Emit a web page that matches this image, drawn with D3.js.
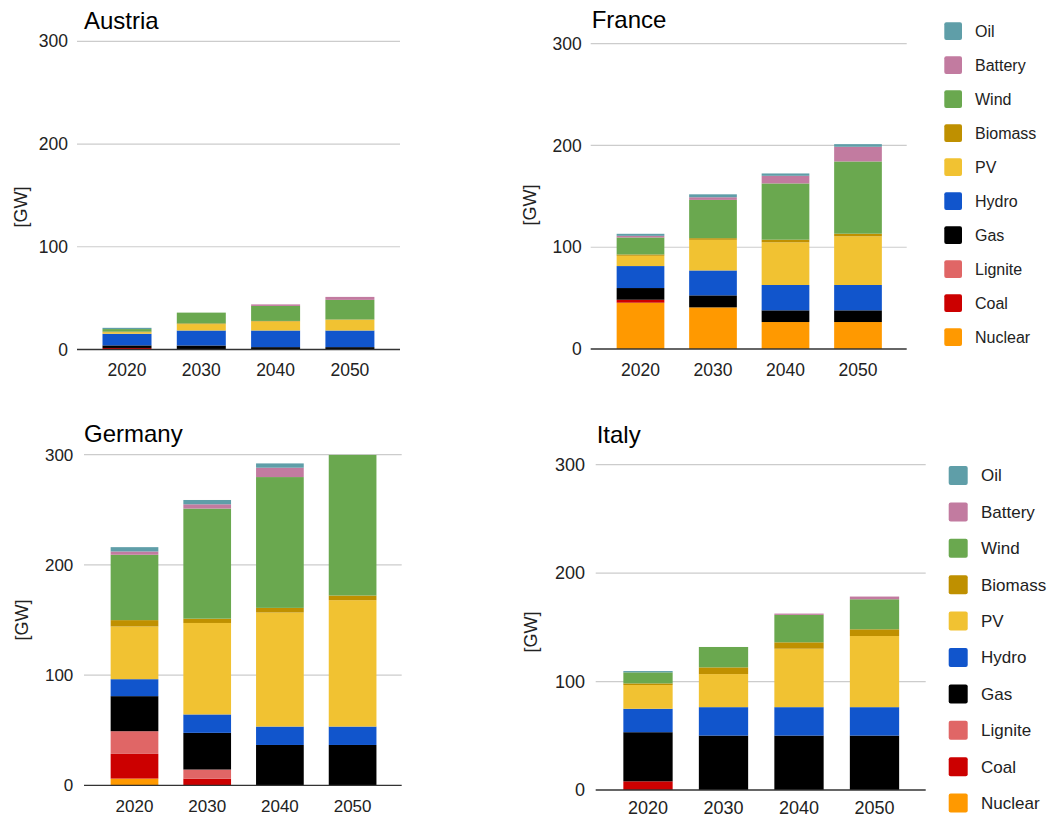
<!DOCTYPE html>
<html>
<head>
<meta charset="utf-8">
<script src="https://cdn.jsdelivr.net/npm/d3@7"></script>
<style>
  html, body { margin: 0; padding: 0; background: #fff; }
  svg { display: block; font-family: "Liberation Sans", Arial, sans-serif; }
</style>
</head>
<body>
<svg id="chart" width="1048" height="818"></svg>
<script>
// ---- data ----
const years = ["2020", "2030", "2040", "2050"];
const sources = ["Nuclear", "Coal", "Lignite", "Gas", "Hydro", "PV", "Biomass", "Wind", "Battery", "Oil"];
const sourceColors = ["#ff9900", "#cc0000", "#e06666", "#000000", "#1155cc", "#f1c232", "#bf9000", "#6aa84f", "#c27ba0", "#5f9ea8"];
const yTicks = [0, 100, 200, 300];

// values per source (order as in `sources`), one value per year [GW]
const austria = [
  [0, 0, 0, 0],          // Nuclear
  [1.5, 0, 0, 0],        // Coal
  [0, 0, 0, 0],          // Lignite
  [2.5, 3.9, 2.3, 2.3],  // Gas
  [11.3, 14.6, 16.2, 16.2], // Hydro
  [1.5, 6.2, 8.8, 10.4], // PV
  [0.6, 0.7, 0.5, 0.3],  // Biomass
  [2.5, 10.5, 14.6, 19.1], // Wind
  [0, 0, 1.5, 2.9],      // Battery
  [1.2, 0, 0, 0]         // Oil
];
const france = [
  [45.5, 40.9, 26.5, 26.5],
  [2.9, 0, 0, 0],
  [0, 0, 0, 0],
  [11.5, 11.8, 11.5, 11.5],
  [21.6, 24.5, 24.9, 24.9],
  [10.1, 30.1, 41.9, 47.8],
  [1.3, 1.6, 2.6, 2.6],
  [16.7, 37.6, 55.3, 71.0],
  [1.6, 2.6, 7.5, 14.4],
  [2.0, 2.9, 2.3, 2.6]
];
const germany = [
  [6.1, 0, 0, 0],
  [22.4, 6.1, 0, 0],
  [20.6, 8.2, 0, 0],
  [31.8, 33.3, 36.6, 36.6],
  [15.4, 16.7, 16.7, 16.7],
  [47.8, 83.0, 103.5, 114.7],
  [5.8, 3.9, 4.2, 4.2],
  [59.3, 99.9, 118.7, 127.8],
  [3.0, 3.9, 8.5, 0],
  [3.9, 3.9, 3.9, 0]
];
const italy = [
  [0, 0, 0, 0],
  [8.0, 0, 0, 0],
  [0, 0, 0, 0],
  [45.3, 50.2, 50.2, 50.2],
  [21.6, 26.2, 26.2, 26.2],
  [21.9, 30.5, 53.9, 65.6],
  [1.5, 6.2, 5.9, 6.2],
  [10.2, 18.8, 25.3, 27.7],
  [0, 0, 1.2, 2.5],
  [1.2, 0, 0, 0]
];

// ---- layout ----
const panels = [
  { title: "Austria", data: austria, x0: 77, x1: 400, y0: 349.5, y300: 41.3, c0: 127, step: 74.3, bw: 49,
    titleX: 84, titleY: 29, tickX: 68, tickFs: 17.5, xLabOff: 26, unitX: 21, unitY: 207, legend: null },
  { title: "France", data: france, x0: 590.7, x1: 906.7, y0: 349, y300: 43.7, c0: 640.5, step: 72.5, bw: 47.7,
    titleX: 591.7, titleY: 28.3, tickX: 581.7, tickFs: 17.5, xLabOff: 26.5, unitX: 530, unitY: 205,
    legend: { x: 944.3, y: 22.3, size: 17.7, gap: 34, textX: 975, fs: 16 } },
  { title: "Germany", data: germany, x0: 84, x1: 401.7, y0: 785.3, y300: 454.7, c0: 134.5, step: 72.7, bw: 47.7,
    titleX: 84, titleY: 442.3, tickX: 73.3, tickFs: 17, xLabOff: 26.2, unitX: 22, unitY: 620, legend: null },
  { title: "Italy", data: italy, x0: 595.7, x1: 925.7, y0: 790, y300: 464.7, c0: 648, step: 75.5, bw: 49.3,
    titleX: 596.7, titleY: 443.3, tickX: 585, tickFs: 18, xLabOff: 23.5, unitX: 531, unitY: 632,
    legend: { x: 948.7, y: 466, size: 19, gap: 36.4, textX: 981, fs: 17 } }
];

const svg = d3.select("#chart");

panels.forEach(p => {
  const g = svg.append("g");
  const y = d3.scaleLinear().domain([0, 300]).range([p.y0, p.y300]);
  const pi = 1 - p.bw / p.step;
  const x = d3.scaleBand().domain(years)
    .range([p.c0 - p.step / 2, p.c0 + p.step * 3.5])
    .paddingInner(pi).paddingOuter(pi / 2);

  // gridlines
  g.selectAll("line.grid").data(yTicks.filter(t => t > 0)).join("line")
    .attr("x1", p.x0).attr("x2", p.x1)
    .attr("y1", d => y(d)).attr("y2", d => y(d))
    .attr("stroke", "#cccccc").attr("stroke-width", 1.2);

  // y tick labels
  g.selectAll("text.ytick").data(yTicks).join("text")
    .attr("x", p.tickX).attr("y", d => y(d))
    .attr("dy", "0.35em").attr("text-anchor", "end")
    .attr("font-size", p.tickFs).attr("fill", "#222")
    .text(d => d);

  // stacked bars
  const rows = years.map((yr, i) => {
    const o = { year: yr };
    sources.forEach((s, k) => { o[s] = p.data[k][i]; });
    return o;
  });
  const stacked = d3.stack().keys(sources)(rows);
  const clipId = "clip-" + p.title;
  svg.append("defs").append("clipPath").attr("id", clipId)
    .append("rect").attr("x", p.x0).attr("y", p.y300).attr("width", p.x1 - p.x0).attr("height", p.y0 - p.y300);
  const bars = g.append("g").attr("clip-path", `url(#${clipId})`);
  stacked.forEach((layer, k) => {
    bars.selectAll(null).data(layer.filter(d => d[1] - d[0] > 0)).join("rect")
      .attr("x", d => x(d.data.year))
      .attr("width", x.bandwidth())
      .attr("y", d => y(d[1]))
      .attr("height", d => y(d[0]) - y(d[1]))
      .attr("fill", sourceColors[k]);
  });

  // baseline axis
  g.append("line")
    .attr("x1", p.x0).attr("x2", p.x1)
    .attr("y1", y(0)).attr("y2", y(0))
    .attr("stroke", "#333").attr("stroke-width", 1.3);

  // x labels
  g.selectAll("text.xtick").data(years).join("text")
    .attr("x", d => x(d) + x.bandwidth() / 2)
    .attr("y", y(0) + p.xLabOff)
    .attr("text-anchor", "middle")
    .attr("font-size", p.tickFs).attr("fill", "#222")
    .text(d => d);

  // title
  g.append("text").attr("x", p.titleX).attr("y", p.titleY)
    .attr("font-size", 24).attr("fill", "#000").text(p.title);

  // unit label
  g.append("text")
    .attr("transform", `translate(${p.unitX},${p.unitY}) rotate(-90)`)
    .attr("text-anchor", "middle").attr("dy", "0.35em")
    .attr("font-size", 18).attr("fill", "#222").text("[GW]");

  // legend
  if (p.legend) {
    const L = p.legend;
    const order = sources.slice().reverse();
    const lg = g.append("g");
    order.forEach((s, i) => {
      const k = sources.indexOf(s);
      lg.append("rect").attr("x", L.x).attr("y", L.y + i * L.gap)
        .attr("width", L.size).attr("height", L.size).attr("rx", 2)
        .attr("fill", sourceColors[k]);
      lg.append("text").attr("x", L.textX).attr("y", L.y + i * L.gap + L.size / 2)
        .attr("dy", "0.35em").attr("font-size", L.fs).attr("fill", "#222").text(s);
    });
  }
});
</script>
</body>
</html>
